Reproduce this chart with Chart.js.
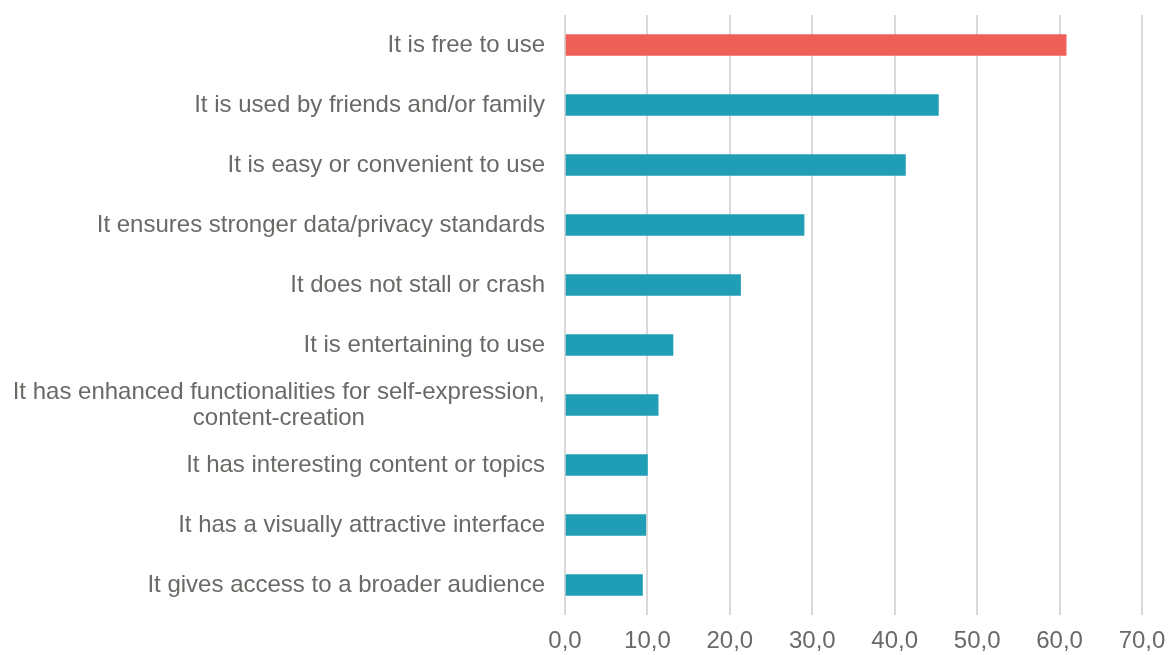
<!DOCTYPE html>
<html>
<head>
<meta charset="utf-8">
<script src="https://cdn.jsdelivr.net/npm/chart.js@4/dist/chart.umd.min.js"></script>
<style>
html,body{margin:0;padding:0;background:#fff;}
#wrap{width:1168px;height:655px;position:relative;}
</style>
</head>
<body>
<div id="wrap"><canvas id="c" width="1168" height="655"></canvas></div>
<script>
const categories = [
  "It is free to use",
  "It is used by friends and/or family",
  "It is easy or convenient to use",
  "It ensures stronger data/privacy standards",
  "It does not stall or crash",
  "It is entertaining to use",
  ["It has enhanced functionalities for self-expression,", "content-creation"],
  "It has interesting content or topics",
  "It has a visually attractive interface",
  "It gives access to a broader audience"
];
const values = [60.8, 45.3, 41.3, 29.0, 21.3, 13.1, 11.3, 10.0, 9.8, 9.4];
const barColors = ["#EF6058", "#209EB6", "#209EB6", "#209EB6", "#209EB6", "#209EB6", "#209EB6", "#209EB6", "#209EB6", "#209EB6"];
const xMin = 0, xMax = 70, xStep = 10;

const FONT = "'Liberation Sans', Arial, sans-serif";
const FSIZE = 24;
const TXT = '#6b6966';

function zeroPad(s) { s.paddingTop = 0; s.paddingBottom = 0; s.paddingLeft = 0; s.paddingRight = 0; }

// centre the lines of a multi-line label under each other (right-aligned block)
const mctx = document.createElement('canvas').getContext('2d');
mctx.font = FSIZE + 'px ' + FONT;
function centreLines(lbl) {
  if (!Array.isArray(lbl)) return lbl;
  const widths = lbl.map(l => mctx.measureText(l).width);
  const maxW = Math.max(...widths);
  const sp = mctx.measureText('\u00A0').width;
  return lbl.map((l, i) => l + '\u00A0'.repeat(Math.round((maxW - widths[i]) / 2 / sp)));
}

new Chart(document.getElementById('c'), {
  type: 'bar',
  data: {
    labels: categories,
    datasets: [{
      data: values,
      backgroundColor: barColors,
      barThickness: 21,
      borderWidth: 0
    }]
  },
  options: {
    indexAxis: 'y',
    responsive: false,
    animation: false,
    layout: { padding: { top: 15, right: 26, left: 0, bottom: 0 } },
    plugins: { legend: { display: false }, tooltip: { enabled: false } },
    scales: {
      x: {
        min: xMin, max: xMax,
        grid: { color: '#d9d9d9', lineWidth: 2, drawTicks: false },
        border: { display: false },
        ticks: {
          stepSize: xStep,
          color: TXT,
          font: { family: FONT, size: FSIZE },
          padding: 12,
          callback: v => v.toFixed(1).replace('.', ',')
        },
        afterFit: s => { s.height = 40; zeroPad(s); }
      },
      y: {
        grid: { display: false, drawTicks: false },
        border: { display: false },
        ticks: {
          color: TXT,
          font: { family: FONT, size: FSIZE, lineHeight: 1.08 },
          padding: 20,
          callback: function(v, i) { return centreLines(categories[i]); }
        },
        afterFit: s => { s.width = 565; zeroPad(s); }
      }
    }
  }
});
</script>
</body>
</html>
